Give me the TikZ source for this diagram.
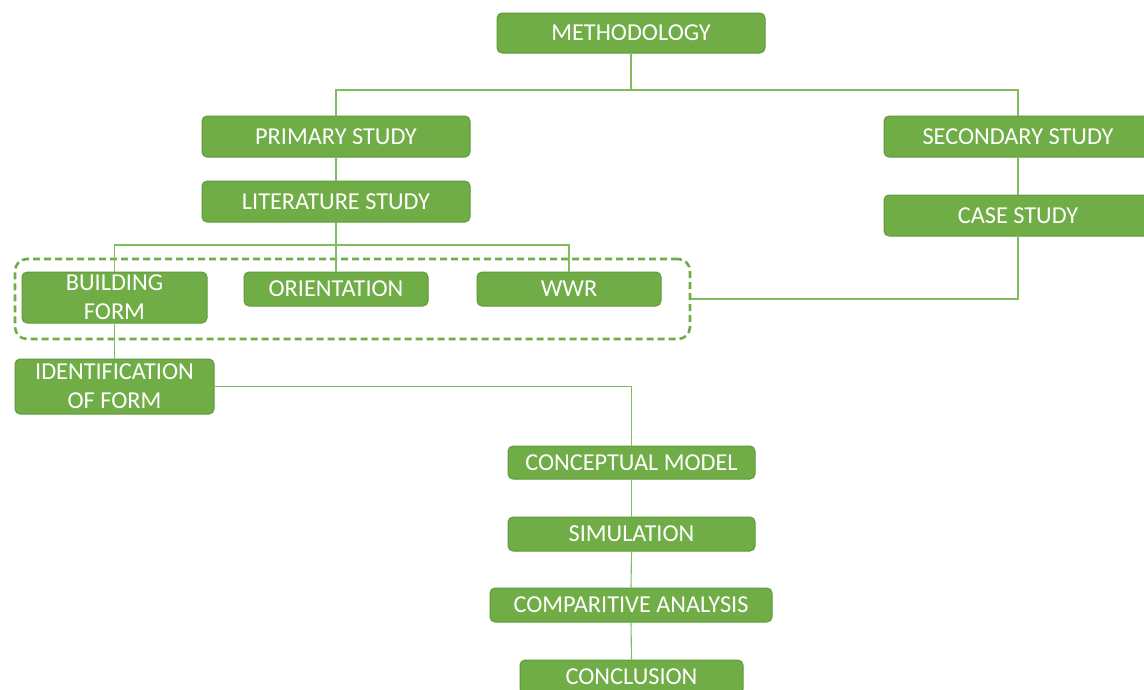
\documentclass[tikz,border=0pt]{standalone}
\usepackage{fontspec}
\setmainfont{Carlito}
\definecolor{gfill}{HTML}{70AD47}
\definecolor{gdraw}{HTML}{5E9B3A}
\definecolor{gline}{HTML}{82BC5F}
\begin{document}
\begin{tikzpicture}[x=1pt,y=-1pt,
  box/.style={draw=gdraw, line width=1pt, fill=gfill, rounded corners=5pt,
    text=white, inner sep=0pt, align=center,
    font=\fontsize{24.3}{29}\selectfont},
  conn/.style={draw=gline, line width=1.1pt},
  grpbox/.style={draw=gfill, line width=2.6pt, dash pattern=on 7pt off 4pt,
    rounded corners=12pt, inner sep=0pt}]
\clip (0,0) rectangle (1144,689);
\fill[white] (0,0) rectangle (1144,689);
% group (drawn first)
\node[grpbox, minimum width=675, minimum height=80] (grp) at (352.5,299) {};
% nodes
\node[box, minimum width=268, minimum height=40] (meth) at (631,33) {METHODOLOGY};
\node[box, minimum width=268, minimum height=41] (prim) at (336,136.5) {PRIMARY STUDY};
\node[box, minimum width=268, minimum height=41] (sec) at (1018,136.5) {SECONDARY STUDY};
\node[box, minimum width=268, minimum height=41] (lit) at (336,201.5) {LITERATURE STUDY};
\node[box, minimum width=268, minimum height=41] (case) at (1018,215.5) {CASE STUDY};
\node[box, minimum width=185, minimum height=51] (bf) at (114.5,297.5) {BUILDING\\FORM};
\node[box, minimum width=184, minimum height=34] (ori) at (336,289) {ORIENTATION};
\node[box, minimum width=184, minimum height=34] (wwr) at (569,289) {WWR};
\node[box, minimum width=199, minimum height=55] (idf) at (114.5,386.5) {IDENTIFICATION\\OF FORM};
\node[box, minimum width=247, minimum height=33] (con) at (631.5,462.5) {CONCEPTUAL MODEL};
\node[box, minimum width=247, minimum height=34] (sim) at (631.5,534) {SIMULATION};
\node[box, minimum width=282, minimum height=34] (comp) at (631,605) {COMPARITIVE ANALYSIS};
\node[box, minimum width=223, minimum height=34] (concl) at (631.5,677) {CONCLUSION};
% branch points
\coordinate (b1) at (631,90);
\coordinate (b2) at (336,245);
% connectors
\draw[conn] (meth.south) -- (b1);
\draw[conn] (prim.north) |- (b1) -| (sec.north);
\draw[conn] (prim.south) -- (lit.north);
\draw[conn] (sec.south) -- (case.north);
\draw[conn] (lit.south) -- (ori.north);
\draw[conn] (bf.north) |- (b2) -| (wwr.north);
\draw[conn] (case.south) |- (grp.east);
\draw[conn] (bf.south) -- (idf.north);
\draw[conn] (idf.east) -| (con.north);
\draw[conn] (con.south) -- (sim.north);
\draw[conn] (sim.south) -- (comp.north);
\draw[conn] (comp.south) -- (concl.north);
\end{tikzpicture}
\end{document}
